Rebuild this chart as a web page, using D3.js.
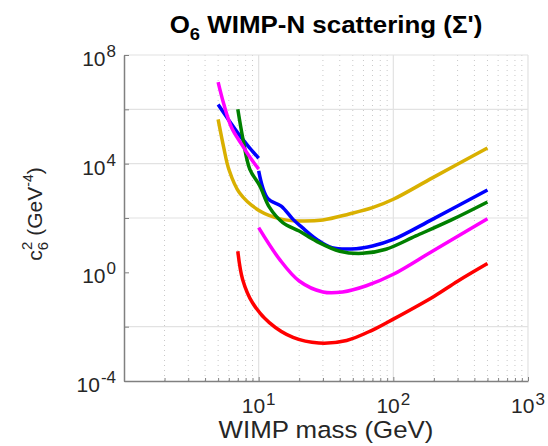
<!DOCTYPE html>
<meta charset="utf-8">
<head>
    <script type="text/javascript" src="https://cdn.jsdelivr.net/npm/d3@7/dist/d3.min.js"></script>
    <style>
        body { margin: 0; background: #ffffff; }
        text { font-family: "Liberation Sans", Arial, Helvetica, sans-serif; }
    </style>
</head>
<body>
    <svg width=548 height=446></svg>
</body>
<script>
    // curves (mass in GeV, c6^2 in GeV^-4)
    let goldMass = [5, 5.5, 6, 7.2, 10.2, 15, 20, 30, 47, 70, 100, 195, 500];
    let goldValue = [427000, 39800, 6300, 850, 182, 89, 78, 85, 141, 240, 490, 3000, 38000];

    let blueHighMass = [5, 6, 7.2, 8.5, 10];
    let blueHighValue = [1500000, 400000, 112000, 40000, 15800];
    let blueLowMass = [10, 11.7, 14.7, 18, 21, 27, 35, 53, 70, 100, 195, 500];
    let blueLowValue = [5400, 513, 275, 89, 45, 16.2, 8.1, 7.4, 9.3, 16.2, 89, 1070];

    let greenMass = [7, 7.65, 8.6, 10.2, 12, 15.1, 20, 26.8, 40, 59, 88, 147, 275, 500];
    let greenValue = [1000000, 79400, 6170, 1510, 251, 68, 33, 14.1, 6.0, 5.0, 7.1, 21.9, 89, 389];

    let magentaHighMass = [5, 5.5, 6.3, 7.5, 8.7, 10];
    let magentaHighValue = [10000000, 1600000, 210000, 50000, 16000, 6300];
    let magentaLowMass = [10, 14.3, 20, 30, 42, 63, 100, 195, 500];
    let magentaLowValue = [44, 3.0, 0.48, 0.19, 0.19, 0.32, 0.85, 6.0, 93];

    let redMass = [7, 7.6, 9, 12, 18, 28, 45, 70, 100, 200, 300, 500];
    let redValue = [6.0, 0.55, 0.076, 0.014, 0.0040, 0.0025, 0.0031, 0.0075, 0.019, 0.13, 0.47, 2.1];

    let xTickValues = [10, 100, 1000];
    let xTickExps = ["1", "2", "3"];
    let yTickValues = [1e8, 1e4, 1, 1e-4];
    let yTickExps = ["8", "4", "0", "-4"];
    let yGridValues = [1e-2, 1e2, 1e4, 1e6, 1e8];

    let series = [
        { mass: goldMass, value: goldValue, color: "#d9b000" },
        { mass: blueHighMass, value: blueHighValue, color: "#0000ff" },
        { mass: blueLowMass, value: blueLowValue, color: "#0000ff" },
        { mass: greenMass, value: greenValue, color: "#008000" },
        { mass: magentaHighMass, value: magentaHighValue, color: "#ff00ff" },
        { mass: magentaLowMass, value: magentaLowValue, color: "#ff00ff" },
        { mass: redMass, value: redValue, color: "#ff0000" }
    ];

    let plotLeft = 124, plotRight = 528, plotTop = 55, plotBottom = 381;

    let x = d3.scaleLog().domain([1, 1000]).range([plotLeft, plotRight]);
    let y = d3.scaleLog().domain([1e-4, 1e8]).range([plotBottom, plotTop]);

    let svg = d3.select("svg");

    // minor grid (dotted) on x
    let minorX = [];
    [1, 10, 100].forEach(function (d) {
        for (let k = 2; k <= 9; k++) minorX.push(d * k);
    });
    svg.append("g").selectAll("line")
        .data(minorX)
        .enter().append("line")
        .attr("x1", d => x(d)).attr("x2", d => x(d))
        .attr("y1", plotTop).attr("y2", plotBottom)
        .attr("stroke", "#c8c8c8")
        .attr("stroke-width", 1)
        .attr("stroke-dasharray", "1,4");

    // major grid
    svg.append("g").selectAll("line")
        .data(xTickValues)
        .enter().append("line")
        .attr("x1", d => x(d)).attr("x2", d => x(d))
        .attr("y1", plotTop).attr("y2", plotBottom)
        .attr("stroke", "#e2e2e2")
        .attr("stroke-width", 1.2);

    svg.append("g").selectAll("line")
        .data(yGridValues)
        .enter().append("line")
        .attr("x1", plotLeft).attr("x2", plotRight)
        .attr("y1", d => y(d)).attr("y2", d => y(d))
        .attr("stroke", "#e2e2e2")
        .attr("stroke-width", 1.2);

    // curves
    let line = d3.line()
        .x(d => x(d[0]))
        .y(d => y(d[1]))
        .curve(d3.curveCatmullRom.alpha(0.5));

    svg.append("g").selectAll("path")
        .data(series)
        .enter().append("path")
        .attr("d", s => line(s.mass.map((m, i) => [m, s.value[i]])))
        .attr("fill", "none")
        .attr("stroke", s => s.color)
        .attr("stroke-width", 3.5)
        .attr("stroke-linejoin", "round");

    // axes
    let xAxis = d3.axisBottom(x).tickValues(xTickValues.concat(minorX))
        .tickSizeInner(-4).tickSizeOuter(0).tickFormat("");
    svg.append("g")
        .attr("transform", `translate(0, ${plotBottom})`)
        .call(xAxis)
        .call(g => g.select(".domain").attr("stroke", "#808080").attr("stroke-width", 1.5))
        .call(g => g.selectAll(".tick line").attr("stroke", "#808080"))
        .call(g => g.selectAll(".tick line").filter(d => xTickValues.indexOf(d) < 0).attr("y2", -3));

    let yAxis = d3.axisLeft(y).tickValues(yGridValues.concat([1e-4, 1]))
        .tickSizeInner(-5).tickSizeOuter(0).tickFormat("");
    svg.append("g")
        .attr("transform", `translate(${plotLeft}, 0)`)
        .call(yAxis)
        .call(g => g.select(".domain").attr("stroke", "#808080").attr("stroke-width", 1.5))
        .call(g => g.selectAll(".tick line").attr("stroke", "#808080"));

    // tick labels
    let xLab = svg.append("g").selectAll("text")
        .data(xTickValues)
        .enter().append("text")
        .attr("x", d => x(d))
        .attr("y", 413)
        .attr("text-anchor", "middle")
        .attr("font-size", 21)
        .attr("fill", "#262626");
    xLab.append("tspan").text("10");
    xLab.append("tspan").attr("dx", 1).attr("dy", -8).attr("font-size", 17).text((d, i) => xTickExps[i]);

    let yLab = svg.append("g").selectAll("text")
        .data(yTickValues)
        .enter().append("text")
        .attr("x", 116)
        .attr("y", d => y(d) + 11)
        .attr("text-anchor", "end")
        .attr("font-size", 21)
        .attr("fill", "#262626");
    yLab.append("tspan").text("10");
    yLab.append("tspan").attr("dx", 1).attr("dy", -9).attr("font-size", 17).text((d, i) => yTickExps[i]);

    // axis titles
    svg.append("text")
        .attr("transform", `translate(${(plotLeft + plotRight) / 2}, 438) scale(1.1, 1)`)
        .attr("text-anchor", "middle")
        .attr("font-size", 23.5)
        .attr("fill", "#262626")
        .text("WIMP mass (GeV)");

    let yTitle = svg.append("text")
        .attr("transform", "translate(42, 214) rotate(-90)")
        .attr("text-anchor", "middle")
        .attr("font-size", 21)
        .attr("fill", "#262626");
    yTitle.append("tspan").text("c");
    yTitle.append("tspan").attr("dy", 6).attr("font-size", 15).text("6");
    yTitle.append("tspan").attr("dx", -8).attr("dy", -16).attr("font-size", 15).text("2");
    yTitle.append("tspan").attr("dy", 10).text(" (GeV");
    yTitle.append("tspan").attr("dy", -9).attr("font-size", 14).text("-4");
    yTitle.append("tspan").attr("dy", 9).text(")");

    // title
    let title = svg.append("text")
        .attr("transform", `translate(${(plotLeft + plotRight) / 2}, 33) scale(1.08, 1)`)
        .attr("text-anchor", "middle")
        .attr("font-size", 24)
        .attr("font-weight", "bold")
        .attr("fill", "#000000");
    title.append("tspan").text("O");
    title.append("tspan").attr("dy", 7).attr("font-size", 17).text("6");
    title.append("tspan").attr("dy", -7).text(" WIMP-N scattering (\u03A3')");
</script>
